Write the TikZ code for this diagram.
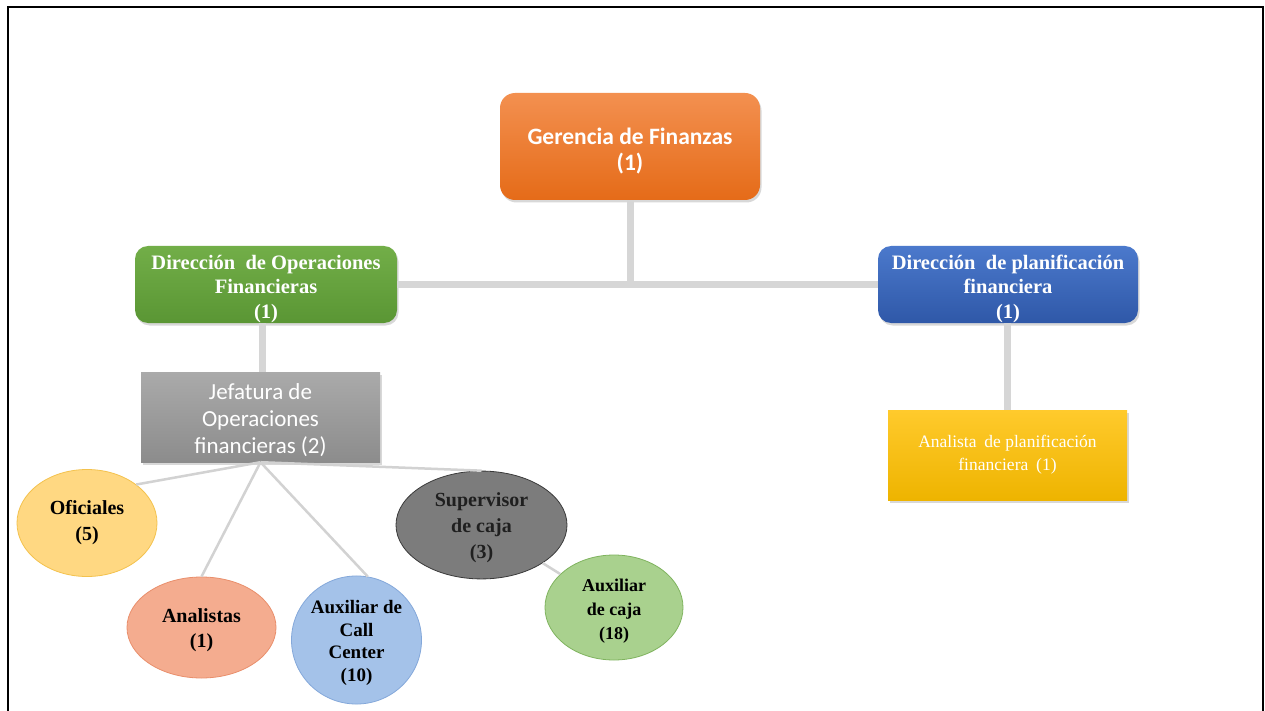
\documentclass[tikz,border=0pt]{standalone}
\usepackage{fontspec}
\setmainfont{Liberation Serif}
\newfontfamily\calib{Carlito}
\usetikzlibrary{shapes.geometric,shadows}
\definecolor{gerT}{HTML}{F39050}\definecolor{gerB}{HTML}{E56B18}
\definecolor{opT}{HTML}{72AE48}\definecolor{opB}{HTML}{5A9634}
\definecolor{plT}{HTML}{4B79CC}\definecolor{plB}{HTML}{2F58A8}
\definecolor{jefT}{HTML}{AAAAAA}\definecolor{jefB}{HTML}{8C8C8C}
\definecolor{anT}{HTML}{FFCA2C}\definecolor{anB}{HTML}{EEB400}
\definecolor{conn}{HTML}{D6D6D6}
\definecolor{thin}{HTML}{D2D2D2}
\definecolor{ofiF}{HTML}{FFD882}\definecolor{ofiD}{HTML}{F3C24E}
\definecolor{anaF}{HTML}{F4AC8F}\definecolor{anaD}{HTML}{E98F6C}
\definecolor{ccF}{HTML}{A4C2E9}\definecolor{ccD}{HTML}{84A8DA}
\definecolor{supF}{HTML}{7C7C7C}\definecolor{supD}{HTML}{3A3A3A}
\definecolor{auxF}{HTML}{A9D18E}\definecolor{auxD}{HTML}{7FB35E}
\newcommand{\lowerby}[1]{\rule{0pt}{#1}}
\tikzset{
  boxshadow/.style={drop shadow={opacity=0.3,shadow xshift=1.5pt,shadow yshift=-2.5pt}},
  rbox/.style={rectangle,rounded corners=13pt,inner sep=0pt,align=center,text=white,boxshadow},
  sbox/.style={rectangle,inner sep=0pt,align=center,text=white,boxshadow},
  ell/.style={ellipse,inner sep=0pt,align=center,line width=0.8pt,font=\bfseries},
  thick conn/.style={draw=conn,line width=7pt},
  thin conn/.style={draw=thin,line width=2.5pt}
}
\begin{document}
\begin{tikzpicture}[x=1pt,y=-1pt]
\useasboundingbox (0,0) rectangle (1265,711);
\fill[white] (0,0) rectangle (1265,711);
\draw[line width=2pt] (7.5,713) -- (7.5,7.5) -- (1262.5,7.5) -- (1262.5,713);

% boxes
\node[rbox,rounded corners=15pt,minimum width=260pt,minimum height=107pt,top color=gerT,bottom color=gerB,
  font=\calib\bfseries\fontsize{23.5}{26}\selectfont] (ger) at (630,146.5) {\lowerby{25pt}Gerencia de Finanzas\\(1)};
\node[rbox,minimum width=262pt,minimum height=77pt,top color=opT,bottom color=opB,
  font=\bfseries\fontsize{20.5}{24.5}\selectfont] (dirop) at (266,284.5) {\lowerby{23pt}Dirección\hspace{0.25em} de Operaciones\\Financieras\\(1)};
\node[rbox,minimum width=260pt,minimum height=77pt,top color=plT,bottom color=plB,
  font=\bfseries\fontsize{20.5}{24.5}\selectfont] (dirpl) at (1008,284.5) {\lowerby{23pt}Dirección\hspace{0.25em} de planificación\\financiera\\(1)};
\node[sbox,minimum width=239pt,minimum height=90pt,top color=jefT,bottom color=jefB,
  font=\calib\fontsize{23}{27}\selectfont] (jef) at (260.5,417) {\lowerby{22pt}Jefatura de\\Operaciones\\financieras (2)};
\node[sbox,minimum width=239pt,minimum height=90pt,top color=anT,bottom color=anB,
  font=\fontsize{17.5}{23}\selectfont] (anpl) at (1007.5,455) {Analista\hspace{0.2em} de planificación\\financiera\hspace{0.2em} (1)};

% ellipses
\node[ell,minimum width=140pt,minimum height=107pt,fill=ofiF,draw=ofiD,
  font=\bfseries\fontsize{20}{26}\selectfont] (ofi) at (87,523) {Oficiales\\(5)};
\node[ell,minimum width=149pt,minimum height=101pt,fill=anaF,draw=anaD,
  font=\bfseries\fontsize{20}{25}\selectfont] (ana) at (201.5,627.5) {\lowerby{20pt}Analistas\\(1)};
\node[ell,minimum width=130pt,minimum height=106pt,fill=ccF,draw=ccD,
  font=\bfseries\fontsize{19}{22.5}\selectfont] (cc) at (356.5,640) {\lowerby{19pt}Auxiliar de\\Call\\Center\\(10)};
\node[ell,minimum width=171pt,minimum height=106pt,fill=supF,draw=supD,text=black!88,
  font=\bfseries\fontsize{20}{26}\selectfont] (sup) at (481.5,525) {\lowerby{20pt}Supervisor\\de caja\\(3)};
\node[ell,minimum width=138pt,minimum height=105pt,fill=auxF,draw=auxD,
  font=\bfseries\fontsize{18}{24}\selectfont] (aux) at (614,607.5) {\lowerby{20pt}Auxiliar\\de caja\\(18)};

% connectors
\draw[thick conn] (dirop.east) -- (dirpl.west);
\draw[thick conn] (ger.south) -- (ger.south |- dirop.east);
\draw[thick conn] (jef.north -| 262,0) -- (dirop.south -| 262,0);
\draw[thick conn] (anpl.north -| 1007,0) -- (dirpl.south -| 1007,0);
\draw[thin conn] (jef.south) -- (ofi.38);
\draw[thin conn] (jef.south) -- (ana.north);
\draw[thin conn] (jef.south) -- (cc.80);
\draw[thin conn] (jef.south) -- (sup.north);
\draw[thin conn] (sup) -- (aux);
\end{tikzpicture}
\end{document}
